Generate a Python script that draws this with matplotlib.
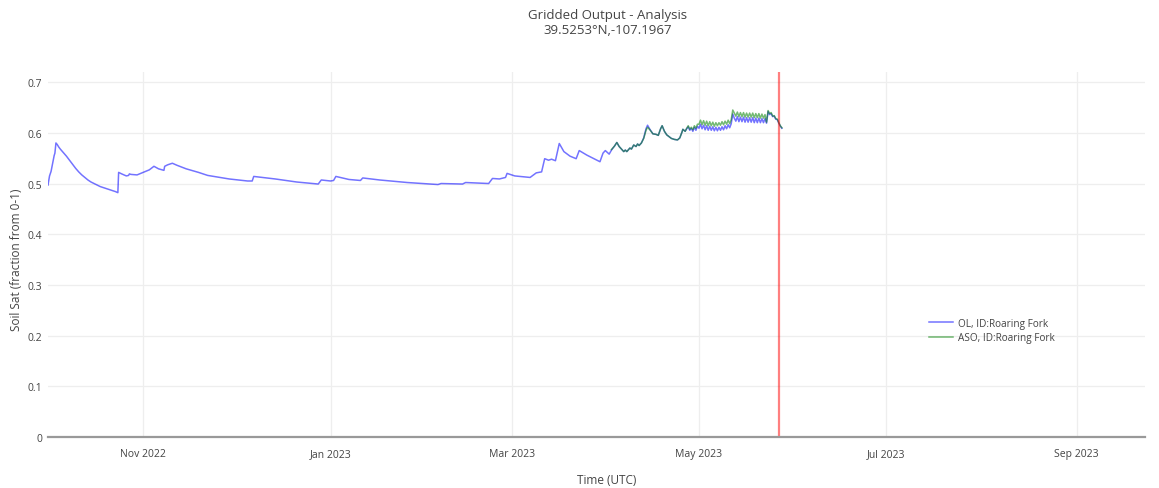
import pandas as pd
import numpy as np
import matplotlib.pyplot as plt
import matplotlib.dates as mdates

# Data soil saturation
# Bagian OL sebelum April (waktu tidak teratur)
ol_time = ['2022-10-01 00:00', '2022-10-01 12:00', '2022-10-02 00:00', '2022-10-02 12:00',
           '2022-10-03 00:00', '2022-10-03 06:00', '2022-10-03 14:00', '2022-10-04 00:00',
           '2022-10-04 12:00', '2022-10-05', '2022-10-06', '2022-10-07', '2022-10-08',
           '2022-10-09', '2022-10-10', '2022-10-11', '2022-10-12', '2022-10-13', '2022-10-14',
           '2022-10-15', '2022-10-16', '2022-10-17', '2022-10-18', '2022-10-19', '2022-10-20',
           '2022-10-21', '2022-10-22', '2022-10-23', '2022-10-23 18:00', '2022-10-24 00:00',
           '2022-10-25', '2022-10-26 12:00', '2022-10-27 06:00', '2022-10-27 12:00',
           '2022-10-28', '2022-10-30', '2022-11-01', '2022-11-03', '2022-11-04 12:00',
           '2022-11-06', '2022-11-07 18:00', '2022-11-08 00:00', '2022-11-09',
           '2022-11-10 12:00', '2022-11-12', '2022-11-15', '2022-11-19', '2022-11-22',
           '2022-11-29', '2022-12-05', '2022-12-06 12:00', '2022-12-07 00:00', '2022-12-14',
           '2022-12-21', '2022-12-28', '2022-12-29', '2023-01-01', '2023-01-02 00:00',
           '2023-01-02 18:00', '2023-01-07', '2023-01-10 18:00', '2023-01-11 12:00',
           '2023-01-17', '2023-01-26', '2023-02-05', '2023-02-06', '2023-02-13', '2023-02-14',
           '2023-02-21 12:00', '2023-02-22 18:00', '2023-02-25', '2023-02-27 00:00',
           '2023-02-27 12:00', '2023-03-02', '2023-03-07', '2023-03-09', '2023-03-10 18:00',
           '2023-03-11 18:00', '2023-03-13', '2023-03-14', '2023-03-15 06:00',
           '2023-03-16 12:00', '2023-03-18', '2023-03-20', '2023-03-22', '2023-03-23',
           '2023-03-25 12:00', '2023-03-29 18:00', '2023-03-30 18:00', '2023-03-31 12:00',
           '2023-04-01 18:00']
ol_soil = [0.497, 0.515, 0.524, 0.540,
           0.555, 0.560, 0.580, 0.577,
           0.572, 0.568, 0.561, 0.554, 0.546,
           0.538, 0.530, 0.523, 0.517, 0.512, 0.507,
           0.503, 0.500, 0.497, 0.494, 0.492, 0.490,
           0.488, 0.486, 0.484, 0.482, 0.522,
           0.519, 0.515, 0.516, 0.519,
           0.518, 0.517, 0.522, 0.527, 0.534,
           0.529, 0.526, 0.534, 0.537,
           0.540, 0.536, 0.529, 0.522, 0.516,
           0.509, 0.505, 0.505, 0.514, 0.509,
           0.503, 0.499, 0.507, 0.505, 0.506,
           0.514, 0.508, 0.506, 0.511,
           0.507, 0.502, 0.498, 0.500, 0.499, 0.502,
           0.500, 0.510, 0.509, 0.512,
           0.520, 0.515, 0.512, 0.521, 0.523,
           0.549, 0.546, 0.548, 0.545,
           0.579, 0.563, 0.554, 0.549, 0.565,
           0.556, 0.543, 0.560, 0.565,
           0.558]

# Bagian April: OL dan ASO hampir sama
apr_time = ['2023-04-02 12:00', '2023-04-03 12:00', '2023-04-04 06:00', '2023-04-05',
            '2023-04-06 12:00', '2023-04-07', '2023-04-07 12:00', '2023-04-08 12:00',
            '2023-04-09', '2023-04-09 18:00', '2023-04-10 12:00', '2023-04-11',
            '2023-04-11 12:00', '2023-04-12 06:00', '2023-04-13 00:00', '2023-04-13 18:00',
            '2023-04-14 06:00', '2023-04-15', '2023-04-16', '2023-04-17', '2023-04-17 18:00',
            '2023-04-18 12:00', '2023-04-19 00:00', '2023-04-19 18:00', '2023-04-20 12:00',
            '2023-04-22', '2023-04-23', '2023-04-24', '2023-04-24 18:00', '2023-04-25 12:00',
            '2023-04-25 18:00', '2023-04-26 12:00', '2023-04-27 00:00', '2023-04-27 12:00',
            '2023-04-28 00:00', '2023-04-28 12:00', '2023-04-29 00:00', '2023-04-29 12:00',
            '2023-04-30 00:00', '2023-04-30 12:00']
ol_apr = [0.566, 0.574, 0.581, 0.573,
          0.563, 0.566, 0.563, 0.570,
          0.568, 0.576, 0.573, 0.578,
          0.575, 0.580, 0.590, 0.608,
          0.615, 0.607, 0.598, 0.597, 0.595,
          0.608, 0.614, 0.603, 0.596,
          0.589, 0.587, 0.586, 0.590, 0.602,
          0.607, 0.603, 0.608, 0.612,
          0.605, 0.609, 0.603, 0.611,
          0.605, 0.613]
aso_apr = [0.567, 0.574, 0.581, 0.573,
           0.563, 0.566, 0.563, 0.570,
           0.568, 0.576, 0.573, 0.578,
           0.575, 0.580, 0.589, 0.605,
           0.611, 0.606, 0.598, 0.597, 0.595,
           0.608, 0.614, 0.603, 0.596,
           0.589, 0.587, 0.586, 0.590, 0.602,
           0.607, 0.603, 0.609, 0.614,
           0.607, 0.611, 0.606, 0.614,
           0.609, 0.617]

# Bagian Mei: keluaran tiap 12 jam (osilasi harian)
may_time = pd.date_range('2023-05-01 00:00', '2023-05-28 00:00', freq='12h')
ol_may = [0.609, 0.617, 0.608, 0.615, 0.606, 0.614, 0.605, 0.613, 0.605, 0.612,
          0.604, 0.611, 0.604, 0.611, 0.605, 0.612, 0.606, 0.614, 0.608, 0.616,
          0.610, 0.618, 0.637, 0.629, 0.623, 0.632, 0.622, 0.631, 0.622, 0.631,
          0.621, 0.630, 0.621, 0.630, 0.621, 0.630, 0.620, 0.629, 0.620, 0.629,
          0.620, 0.628, 0.620, 0.628, 0.619, 0.642, 0.636, 0.638, 0.632, 0.633,
          0.627, 0.626, 0.619, 0.613, 0.609]
aso_may = [0.617, 0.625, 0.616, 0.624, 0.615, 0.623, 0.614, 0.622, 0.614, 0.621,
           0.613, 0.620, 0.614, 0.620, 0.615, 0.622, 0.616, 0.623, 0.617, 0.625,
           0.618, 0.626, 0.645, 0.639, 0.633, 0.641, 0.632, 0.640, 0.632, 0.640,
           0.631, 0.639, 0.631, 0.639, 0.631, 0.639, 0.630, 0.638, 0.630, 0.638,
           0.629, 0.637, 0.629, 0.636, 0.621, 0.644, 0.638, 0.640, 0.633, 0.634,
           0.628, 0.627, 0.620, 0.614, 0.610]

now_time = '2023-05-27 05:00'
x_range = ['2022-10-01', '2023-09-23 06:00']
tick_dates = ['2022-11-01', '2023-01-01', '2023-03-01', '2023-05-01', '2023-07-01', '2023-09-01']

# Gabungkan jadi satu seri per model
ol_x = list(pd.to_datetime(ol_time, format='mixed')) + list(pd.to_datetime(apr_time, format='mixed')) + list(may_time)
ol_y = ol_soil + ol_apr + ol_may
aso_x = list(pd.to_datetime(apr_time, format='mixed')) + list(may_time)
aso_y = aso_apr + aso_may

plt.rcParams['font.family'] = ['Open Sans', 'DejaVu Sans']
txt = '#444444'

fig = plt.figure(figsize=(11.59, 4.89), dpi=100)
ax = fig.add_axes([48 / 1159, 1 - 438 / 489, 1097 / 1159, 365 / 489])

ax.plot(ol_x, ol_y, color='blue', alpha=0.55, lw=1.1, label='OL, ID:Roaring Fork')
ax.plot(aso_x, aso_y, color='green', alpha=0.55, lw=1.1, label='ASO, ID:Roaring Fork')
ax.axvline(pd.to_datetime(now_time), color='red', alpha=0.5, lw=1.6)

ax.set_xlim(pd.to_datetime(x_range[0]), pd.to_datetime(x_range[1]))
ax.set_ylim(0, 0.72)
ax.set_yticks([0, 0.1, 0.2, 0.3, 0.4, 0.5, 0.6, 0.7])
ax.set_yticklabels(['0', '0.1', '0.2', '0.3', '0.4', '0.5', '0.6', '0.7'])
ax.set_xticks(pd.to_datetime(tick_dates))
ax.xaxis.set_major_formatter(mdates.DateFormatter('%b %Y'))
ax.tick_params(length=0, labelsize=7.5, labelcolor=txt, pad=8)
ax.tick_params(axis='y', pad=4)

ax.grid(True, color='#eeeeee', lw=0.9)
ax.set_axisbelow(True)
for s in ['top', 'right', 'left']:
    ax.spines[s].set_visible(False)
ax.spines['bottom'].set_color('#999999')
ax.spines['bottom'].set_linewidth(1.6)

# Label sumbu dan judul
fig.text(607 / 1159, 1 - 481 / 489, 'Time (UTC)', ha='center', va='center',
         fontsize=8.5, color=txt)
fig.text(17 / 1159, 1 - 260 / 489, 'Soil Sat (fraction from 0-1)', ha='center', va='center',
         rotation=90, fontsize=8.5, color=txt)
fig.text(608 / 1159, 1 - 15 / 489, 'Gridded Output - Analysis', ha='center', va='center',
         fontsize=9.5, color=txt)
fig.text(608 / 1159, 1 - 30 / 489, '39.5253°N,-107.1967', ha='center', va='center',
         fontsize=9.5, color=txt)

leg = ax.legend(loc='center left', bbox_to_anchor=(0.795, 0.292), frameon=False,
                fontsize=7.2, handlelength=2.4, handletextpad=0.5, labelspacing=0.35)
for t in leg.get_texts():
    t.set_color(txt)

plt.savefig('out.png', dpi=100)
